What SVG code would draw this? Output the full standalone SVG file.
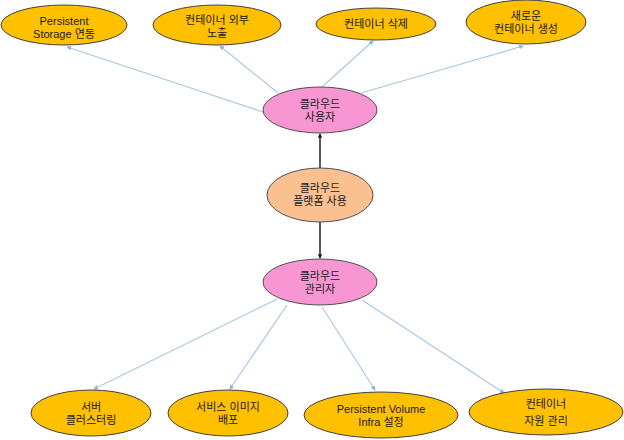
<svg xmlns="http://www.w3.org/2000/svg" width="624" height="440" viewBox="0 0 624 440">
<style>
.y{fill:#FFC000;stroke:#404040;stroke-width:1}
.p{fill:#F796D2;stroke:#505050;stroke-width:1}
.o{fill:#FAC090;stroke:#505050;stroke-width:1}
text{font-family:"Liberation Sans","Noto Sans CJK KR",sans-serif;font-size:11px;fill:#1a1a1a;text-anchor:middle}
.c{stroke:#A9C8E8;stroke-width:1.2;fill:none;marker-end:url(#ab)}
.k{stroke:#222;stroke-width:1.5;fill:none;marker-end:url(#ak)}
</style>
<defs>
<marker id="ab" viewBox="0 0 6 6" refX="5" refY="3" markerWidth="4" markerHeight="4" orient="auto"><path d="M0,0L6,3L0,6z" fill="#8FB3DB"/></marker>
<marker id="ak" viewBox="0 0 6 6" refX="5" refY="3" markerWidth="3" markerHeight="3" orient="auto"><path d="M0,0L6,3L0,6z" fill="#222"/></marker>
</defs>
<rect width="624" height="440" fill="#fff"/>
<g id="connectors">
<line class="c" x1="263" y1="112" x2="67" y2="47"/>
<line class="c" x1="278" y1="93" x2="220" y2="46"/>
<line class="c" x1="322" y1="87" x2="373" y2="41"/>
<line class="c" x1="361" y1="93" x2="523" y2="46"/>
<line class="k" x1="320" y1="168" x2="320" y2="134"/>
<line class="k" x1="320" y1="222" x2="320" y2="258"/>
<line class="c" x1="277" y1="299" x2="94" y2="389"/>
<line class="c" x1="287" y1="305" x2="230" y2="389"/>
<line class="c" x1="322" y1="307" x2="375" y2="390"/>
<line class="c" x1="362" y1="300" x2="504" y2="393"/>
</g>
<g id="n1"><ellipse class="y" cx="64" cy="25" rx="63" ry="20"/><text x="64" y="25">Persistent</text><text x="64" y="38">Storage 연동</text></g>
<g id="n2"><ellipse class="y" cx="217" cy="25" rx="64" ry="20"/><text x="217" y="24">컨테이너 외부</text><text x="217" y="37">노출</text></g>
<g id="n3"><ellipse class="y" cx="376" cy="24" rx="60" ry="16"/><text x="376" y="28">컨테이너 삭제</text></g>
<g id="n4"><ellipse class="y" cx="526" cy="22" rx="60" ry="22"/><text x="526" y="20">새로운</text><text x="526" y="33">컨테이너 생성</text></g>
<g id="user"><ellipse class="p" cx="320" cy="110" rx="57" ry="23"/><text x="320" y="108">클라우드</text><text x="320" y="121">사용자</text></g>
<g id="platform"><ellipse class="o" cx="320" cy="195" rx="53" ry="27"/><text x="320" y="192">클라우드</text><text x="320" y="205">플랫폼 사용</text></g>
<g id="admin"><ellipse class="p" cx="320" cy="282" rx="57" ry="23"/><text x="320" y="280">클라우드</text><text x="320" y="293">관리자</text></g>
<g id="b1"><ellipse class="y" cx="91" cy="413" rx="60" ry="23"/><text x="91" y="411">서버</text><text x="91" y="424">클러스터링</text></g>
<g id="b2"><ellipse class="y" cx="228" cy="413" rx="60" ry="23"/><text x="228" y="411">서비스 이미지</text><text x="228" y="424">배포</text></g>
<g id="b3"><ellipse class="y" cx="381" cy="415" rx="77" ry="23"/><text x="381" y="413">Persistent Volume</text><text x="381" y="426">Infra 설정</text></g>
<g id="b4"><ellipse class="y" cx="546" cy="412" rx="77" ry="23"/><text x="546" y="408">컨테이너</text><text x="546" y="425">자원 관리</text></g>
</svg>
